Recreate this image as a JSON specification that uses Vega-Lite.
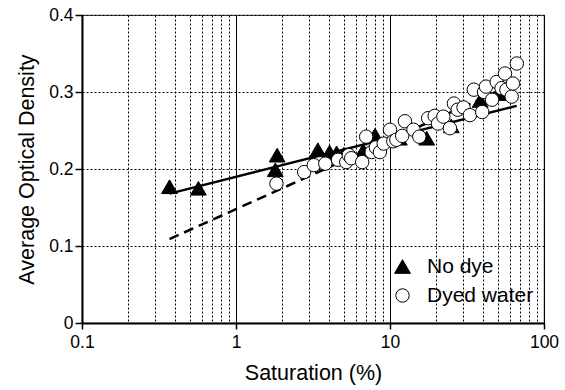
{
  "$schema": "https://vega.github.io/schema/vega-lite/v6.json",
  "width": 462,
  "height": 308,
  "autosize": {"type": "none"},
  "padding": {"left": 82, "top": 15, "right": 21, "bottom": 67},
  "background": "white",
  "config": {
    "font": "Liberation Sans",
    "view": {"stroke": "#555555", "strokeWidth": 1.2},
    "axis": {"labelColor": "black", "titleColor": "black", "titleFontWeight": "normal", "labelFont": "Liberation Sans", "titleFont": "Liberation Sans"},
    "legend": {
      "orient": "none",
      "legendX": 310,
      "legendY": 241,
      "labelFontSize": 21,
      "labelColor": "black",
      "labelOffset": 14,
      "symbolStrokeWidth": 1,
      "symbolOpacity": 1,
      "rowPadding": 7,
      "padding": 0
    }
  },
  "layer": [
    {
      "data": {"values": [
        {"sat": 0.37, "od": 0.168},
        {"sat": 66.5, "od": 0.282}
      ]},
      "mark": {"type": "line", "color": "black", "strokeWidth": 2.5},
      "encoding": {
        "x": {"field": "sat", "type": "quantitative"},
        "y": {"field": "od", "type": "quantitative"}
      }
    },
    {
      "data": {"values": [
        {"sat": 0.37, "od": 0.109},
        {"sat": 68, "od": 0.313}
      ]},
      "mark": {"type": "line", "color": "black", "strokeWidth": 2.5, "strokeDash": [10, 6]},
      "encoding": {
        "x": {"field": "sat", "type": "quantitative"},
        "y": {"field": "od", "type": "quantitative"}
      }
    },
    {
      "data": {"values": [
        {"series": "No dye", "sat": 0.37, "od": 0.177},
        {"series": "No dye", "sat": 0.57, "od": 0.175},
        {"series": "No dye", "sat": 1.80, "od": 0.199},
        {"series": "No dye", "sat": 1.85, "od": 0.218},
        {"series": "No dye", "sat": 3.4, "od": 0.225},
        {"series": "No dye", "sat": 4.05, "od": 0.222},
        {"series": "No dye", "sat": 4.5, "od": 0.221},
        {"series": "No dye", "sat": 5.0, "od": 0.219},
        {"series": "No dye", "sat": 6.7, "od": 0.224},
        {"series": "No dye", "sat": 8.0, "od": 0.244},
        {"series": "No dye", "sat": 11.5, "od": 0.240},
        {"series": "No dye", "sat": 17.3, "od": 0.240},
        {"series": "No dye", "sat": 25.0, "od": 0.256},
        {"series": "No dye", "sat": 38.5, "od": 0.289},
        {"series": "No dye", "sat": 51.5, "od": 0.298},
        {"series": "Dyed water", "sat": 1.83, "od": 0.181},
        {"series": "Dyed water", "sat": 2.77, "od": 0.196},
        {"series": "Dyed water", "sat": 3.2, "od": 0.205},
        {"series": "Dyed water", "sat": 3.8, "od": 0.207},
        {"series": "Dyed water", "sat": 4.6, "od": 0.212},
        {"series": "Dyed water", "sat": 5.2, "od": 0.209},
        {"series": "Dyed water", "sat": 5.4, "od": 0.218},
        {"series": "Dyed water", "sat": 5.6, "od": 0.214},
        {"series": "Dyed water", "sat": 6.6, "od": 0.209},
        {"series": "Dyed water", "sat": 7.0, "od": 0.242},
        {"series": "Dyed water", "sat": 7.6, "od": 0.222},
        {"series": "Dyed water", "sat": 8.1, "od": 0.228},
        {"series": "Dyed water", "sat": 8.6, "od": 0.222},
        {"series": "Dyed water", "sat": 9.1, "od": 0.233},
        {"series": "Dyed water", "sat": 10.0, "od": 0.251},
        {"series": "Dyed water", "sat": 10.5, "od": 0.236},
        {"series": "Dyed water", "sat": 11.0, "od": 0.238},
        {"series": "Dyed water", "sat": 12.0, "od": 0.243},
        {"series": "Dyed water", "sat": 12.5, "od": 0.262},
        {"series": "Dyed water", "sat": 14.2, "od": 0.251},
        {"series": "Dyed water", "sat": 15.5, "od": 0.242},
        {"series": "Dyed water", "sat": 17.7, "od": 0.266},
        {"series": "Dyed water", "sat": 19.5, "od": 0.269},
        {"series": "Dyed water", "sat": 20.5, "od": 0.259},
        {"series": "Dyed water", "sat": 22.2, "od": 0.268},
        {"series": "Dyed water", "sat": 24.5, "od": 0.253},
        {"series": "Dyed water", "sat": 26.0, "od": 0.285},
        {"series": "Dyed water", "sat": 27.5, "od": 0.277},
        {"series": "Dyed water", "sat": 30.0, "od": 0.280},
        {"series": "Dyed water", "sat": 33.0, "od": 0.270},
        {"series": "Dyed water", "sat": 35.0, "od": 0.303},
        {"series": "Dyed water", "sat": 39.7, "od": 0.274},
        {"series": "Dyed water", "sat": 40.8, "od": 0.300},
        {"series": "Dyed water", "sat": 42.0, "od": 0.307},
        {"series": "Dyed water", "sat": 46.0, "od": 0.290},
        {"series": "Dyed water", "sat": 49.3, "od": 0.313},
        {"series": "Dyed water", "sat": 53.0, "od": 0.305},
        {"series": "Dyed water", "sat": 55.8, "od": 0.324},
        {"series": "Dyed water", "sat": 57.0, "od": 0.303},
        {"series": "Dyed water", "sat": 61.7, "od": 0.294},
        {"series": "Dyed water", "sat": 62.8, "od": 0.311},
        {"series": "Dyed water", "sat": 66.6, "od": 0.337}
      ]},
      "mark": {"type": "point", "filled": true, "strokeWidth": 1, "opacity": 1, "fillOpacity": 1, "strokeOpacity": 1},
      "encoding": {
        "x": {
          "field": "sat", "type": "quantitative",
          "scale": {"type": "log", "domain": [0.1, 100], "nice": false},
          "title": "Saturation (%)",
          "axis": {
            "values": [0.1, 0.2, 0.3, 0.4, 0.5, 0.6, 0.7, 0.8, 0.9, 1, 2, 3, 4, 5, 6, 7, 8, 9, 10, 20, 30, 40, 50, 60, 70, 80, 90, 100],
            "format": "~g",
            "labelExpr": "abs(log(datum.value)/LN10 - round(log(datum.value)/LN10)) < 0.001 ? datum.label : ''",
            "labelFontSize": 17.5,
            "labelPadding": 4,
            "labelOverlap": false,
            "labelFlush": false,
            "tickSize": 6,
            "tickColor": "black",
            "tickWidth": 1.5,
            "tickOpacity": {"condition": {"test": "abs(log(datum.value)/LN10 - round(log(datum.value)/LN10)) < 0.001", "value": 1}, "value": 0},
            "grid": true,
            "gridColor": "black",
            "gridWidth": 1,
            "gridOpacity": 1,
            "gridDash": {"condition": {"test": "abs(log(datum.value)/LN10 - round(log(datum.value)/LN10)) < 0.001", "value": []}, "value": [2, 2]},
            "domainColor": "black",
            "domainWidth": 2,
            "titleFontSize": 21.5,
            "titlePadding": 12
          }
        },
        "y": {
          "field": "od", "type": "quantitative",
          "scale": {"domain": [0, 0.4], "nice": false},
          "title": "Average Optical Density",
          "axis": {
            "values": [0, 0.05, 0.1, 0.15, 0.2, 0.25, 0.3, 0.35, 0.4],
            "format": "~g",
            "labelExpr": "abs(datum.value*10 - round(datum.value*10)) < 0.001 ? datum.label : ''",
            "labelFontSize": 17.5,
            "labelPadding": 2,
            "labelOverlap": false,
            "labelFlush": false,
            "tickSize": 7,
            "tickColor": "black",
            "tickWidth": 1.5,
            "tickOpacity": {"condition": {"test": "abs(datum.value*10 - round(datum.value*10)) < 0.001", "value": 1}, "value": 0},
            "grid": true,
            "gridColor": "black",
            "gridWidth": 1,
            "gridDash": [2, 2],
            "domainColor": "black",
            "domainWidth": 2,
            "titleFontSize": 21.5,
            "titlePadding": 10
          }
        },
        "size": {
          "field": "series", "type": "nominal",
          "scale": {"domain": ["No dye", "Dyed water"], "range": [250, 180]},
          "title": null
        },
        "shape": {
          "field": "series", "type": "nominal",
          "scale": {"domain": ["No dye", "Dyed water"], "range": ["triangle-up", "circle"]},
          "title": null
        },
        "fill": {
          "field": "series", "type": "nominal",
          "scale": {"domain": ["No dye", "Dyed water"], "range": ["black", "white"]},
          "title": null
        },
        "stroke": {
          "field": "series", "type": "nominal",
          "scale": {"domain": ["No dye", "Dyed water"], "range": ["black", "black"]},
          "title": null
        }
      }
    }
  ]
}
